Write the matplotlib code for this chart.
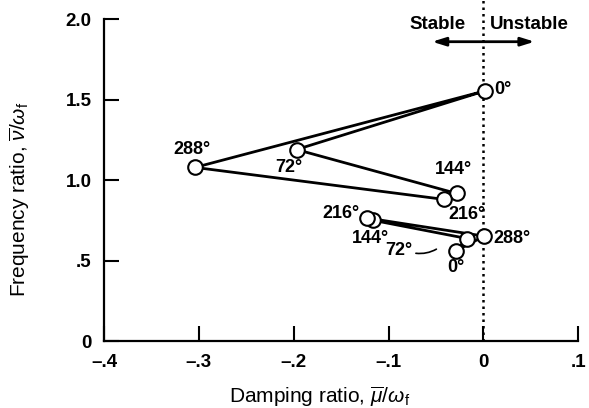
import numpy as np
import matplotlib as mpl
mpl.use("Agg")
import matplotlib.pyplot as plt

plt.rcParams['font.family'] = ['Liberation Sans', 'DejaVu Sans']
plt.rcParams['mathtext.fontset'] = 'custom'
plt.rcParams['mathtext.rm'] = 'Liberation Sans'
plt.rcParams['mathtext.it'] = 'Liberation Sans:italic'

# blade azimuth positions of the two whirl modes (0, 72, 144, 216, 288 deg)
azimuth = ['0°', '72°', '144°', '216°', '288°']

# upper (high frequency) mode
damp_hi = [0.002, -0.197, -0.028, -0.041, -0.304]
freq_hi = [1.555, 1.190, 0.917, 0.880, 1.079]

# lower mode
damp_lo = [-0.029, -0.017, -0.116, -0.123, 0.001]
freq_lo = [0.561, 0.637, 0.750, 0.765, 0.652]

xticks = [-0.4, -0.3, -0.2, -0.1, 0.0, 0.1]
xtick_labels = ['\u2013.4', '\u2013.3', '\u2013.2', '\u2013.1', '0', '.1']
yticks = [0.0, 0.5, 1.0, 1.5, 2.0]
ytick_labels = ['0', '.5', '1.0', '1.5', '2.0']

fig = plt.figure(figsize=(5.89, 4.08), dpi=100)
ax = fig.add_axes([0.1766, 0.164, 0.805, 0.789])

# stability boundary
ax.plot([0, 0], [0, 2.12], ls=(0, (1, 1.6)), color='k', lw=1.8, clip_on=False)

for d, f in [(damp_hi, freq_hi), (damp_lo, freq_lo)]:
    # closed loop through the azimuth stations
    ax.plot(d + d[:1], f + f[:1], color='k', lw=2.0, zorder=2)
    ax.plot(d, f, 'o', ms=10.5, mfc='white', mec='k', mew=1.5, zorder=3)

lab = dict(fontsize=13, fontweight='bold', va='center')
# upper mode labels
ax.text(0.011, 1.56, azimuth[0], ha='left', **lab)
ax.text(-0.205, 1.079, azimuth[1], ha='center', **lab)
ax.text(-0.031, 1.066, azimuth[2], ha='center', **lab)
ax.text(-0.017, 0.789, azimuth[3], ha='center', **lab)
ax.text(-0.307, 1.19, azimuth[4], ha='center', **lab)
# lower mode labels
ax.text(-0.029, 0.458, azimuth[0], ha='center', **lab)
ax.text(-0.089, 0.565, azimuth[1], ha='center', **lab)
ax.text(-0.119, 0.638, azimuth[2], ha='center', **lab)
ax.text(-0.131, 0.793, azimuth[3], ha='right', **lab)
ax.text(0.011, 0.638, azimuth[4], ha='left', **lab)
ax.annotate('', xy=(-0.047, 0.58), xytext=(-0.074, 0.548),
            arrowprops=dict(arrowstyle='-', color='k', lw=1.2,
                            connectionstyle='arc3,rad=0.2'))

# stable / unstable indicator
ax.annotate('', xy=(-0.054, 1.86), xytext=(0.054, 1.86),
            arrowprops=dict(arrowstyle='<|-|>,head_length=0.8,head_width=0.25',
                            color='k', lw=2.0, shrinkA=0, shrinkB=0),
            annotation_clip=False)
ax.text(-0.048, 1.97, 'Stable', ha='center', va='center', fontsize=13.5,
        fontweight='bold', clip_on=False)
ax.text(0.048, 1.97, 'Unstable', ha='center', va='center', fontsize=13.5,
        fontweight='bold', clip_on=False)

ax.set_xlim(-0.4, 0.1)
ax.set_ylim(0, 2.0)
ax.set_xticks(xticks)
ax.set_xticklabels(xtick_labels)
ax.set_yticks(yticks)
ax.set_yticklabels(ytick_labels)
ax.spines['top'].set_visible(False)
ax.spines['right'].set_visible(False)
for s in ['left', 'bottom']:
    ax.spines[s].set_linewidth(1.6)
ax.tick_params(direction='in', length=11, width=1.5, labelsize=13.5, pad=9)
for t in ax.get_xticklabels() + ax.get_yticklabels():
    t.set_fontweight('bold')

ax.set_xlabel(r'Damping ratio, $\overline{\mu}/\omega_\mathrm{f}$', fontsize=15)
ax.set_ylabel(r'Frequency ratio, $\overline{\nu}/\omega_\mathrm{f}$', fontsize=15)
ax.xaxis.label.set_va('center')
ax.yaxis.label.set_va('center')
ax.xaxis.set_label_coords(0.455, -0.174)
ax.yaxis.set_label_coords(-0.177, 0.44)

fig.savefig('out.png', dpi=100)
